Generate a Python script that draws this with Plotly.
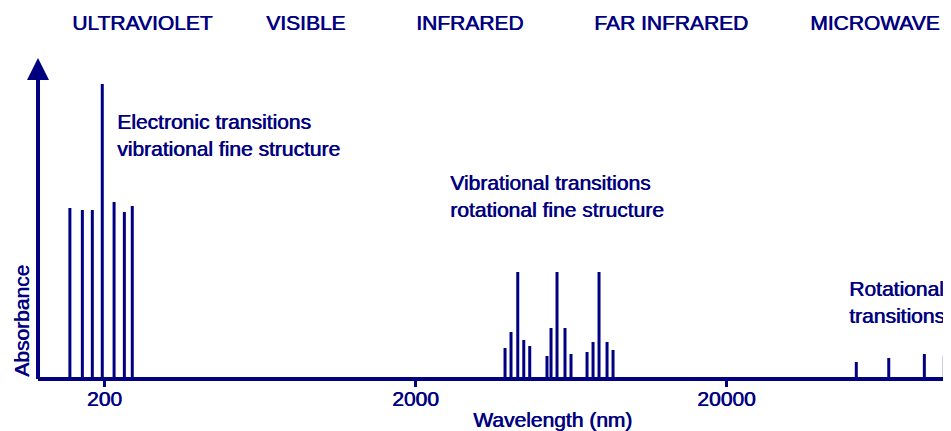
import plotly.graph_objects as go

NAVY = "#000080"
FONT = "Liberation Sans, Arial"
SHADOW = "0.7px 0px 0px #000080"

# electronic transitions (UV), nm and relative absorbance
uv_wavelength = [155, 170, 183, 197, 215, 232, 246]
uv_absorbance = [171, 169, 169, 295, 177, 167, 173]

# vibrational transitions (IR)
ir_wavelength = [3886, 4062, 4270, 4464, 4666,
                 5302, 5462, 5710, 6058, 6334,
                 7132, 7456, 7794, 8270, 8646]
ir_absorbance = [31, 47, 107, 39, 33,
                 23, 51, 107, 51, 25,
                 27, 37, 107, 37, 29]

# rotational transitions (microwave)
rot_wavelength = [52360, 66580, 86660, 100460]
rot_absorbance = [17, 21, 25, 23]

region_labels = ["ULTRAVIOLET", "VISIBLE", "INFRARED", "FAR INFRARED", "MICROWAVE"]
region_x = [142, 305, 469, 671, 875]  # label centres, page px

tick_values = [200, 2000, 20000]
tick_labels = ["200", "2000", "20000"]

X_RANGE = [2.0878, 5.0235]  # log10 nm
Y_MAX = 321

# page body has an 8px margin, so the figure is shrunk to fit the window
PAGE_OFF = 8
W, H = 951 - PAGE_OFF, 431 - PAGE_OFF
M_L, M_R, M_T, M_B = 30, 0, 50, 52
PW = W - M_L - M_R
PH = H - M_T - M_B
PLOT_LEFT = PAGE_OFF + M_L
PLOT_BOTTOM = PAGE_OFF + H - M_B


def px_x(px):
    return (px - PLOT_LEFT) / PW


def px_y(py):
    return (PLOT_BOTTOM - py) / PH


def stick_trace(wl, ab):
    xs, ys = [], []
    for w, a in zip(wl, ab):
        xs += [w, w, None]
        ys += [0, a, None]
    return go.Scatter(
        x=xs, y=ys, mode="lines",
        line=dict(color=NAVY, width=3),
        hoverinfo="skip", showlegend=False,
    )


fig = go.Figure()
fig.add_trace(stick_trace(uv_wavelength, uv_absorbance))
fig.add_trace(stick_trace(ir_wavelength, ir_absorbance))
fig.add_trace(stick_trace(rot_wavelength, rot_absorbance))

# axis lines centred on the plot edges
fig.add_shape(type="line", xref="paper", yref="paper", x0=0, x1=0, y0=0, y1=0.96,
              line=dict(color=NAVY, width=4))
fig.add_shape(type="line", xref="paper", yref="paper", x0=0, x1=1, y0=0, y1=0,
              line=dict(color=NAVY, width=4))

# arrowhead on the absorbance axis
fig.add_annotation(
    x=0, y=1, xref="paper", yref="paper", text="",
    showarrow=True, ax=0, ay=30, arrowhead=2, arrowsize=1.1,
    arrowwidth=4, arrowcolor=NAVY,
)

for lab, cx in zip(region_labels, region_x):
    fig.add_annotation(
        x=px_x(cx), y=px_y(22.5), xref="paper", yref="paper",
        text=lab, showarrow=False,
        xanchor="center", yanchor="middle",
    )

notes = [
    ("Electronic transitions<br>vibrational fine structure", 115, 135),
    ("Vibrational transitions<br>rotational fine structure", 448, 195.5),
    ("Rotational<br>transitions", 846.5, 301.5),
]
for txt, lx, cy in notes:
    fig.add_annotation(
        x=px_x(lx), y=px_y(cy), xref="paper", yref="paper",
        text=txt, showarrow=False, xanchor="left", yanchor="middle",
        align="left",
    )

fig.add_annotation(
    x=px_x(21), y=px_y(321), xref="paper", yref="paper",
    text="Absorbance", textangle=-90, showarrow=False,
    xanchor="center", yanchor="middle",
)
fig.add_annotation(
    x=px_x(552), y=px_y(420), xref="paper", yref="paper",
    text="Wavelength (nm)", showarrow=False,
    xanchor="center", yanchor="middle",
)

fig.update_xaxes(
    type="log", range=X_RANGE,
    tickmode="array", tickvals=tick_values, ticktext=tick_labels,
    ticks="outside", ticklen=7, tickwidth=3, tickcolor=NAVY,
    ticklabelstandoff=-6,
    showline=False, showgrid=False, zeroline=False,
    tickfont=dict(size=21, color=NAVY, family=FONT, shadow=SHADOW),
)
fig.update_yaxes(
    range=[0, Y_MAX], showticklabels=False, ticks="",
    showline=False, showgrid=False, zeroline=False,
)

fig.update_layout(
    width=W, height=H,
    margin=dict(l=M_L, r=M_R, t=M_T, b=M_B),
    paper_bgcolor="white", plot_bgcolor="white",
    font=dict(family=FONT, size=21, color=NAVY, shadow=SHADOW),
    showlegend=False,
)

fig.write_html("out.html")
